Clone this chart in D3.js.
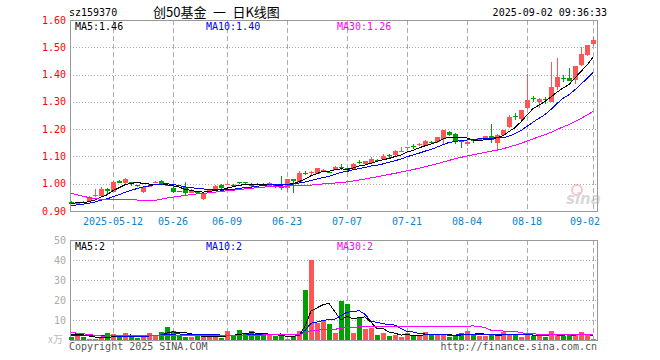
<!DOCTYPE html>
<html>
<head>
<meta charset="utf-8">
<script src="https://cdn.jsdelivr.net/npm/d3@7/dist/d3.min.js"></script>
<style>
  body { margin: 0; background: #fff; }
  text { font-family: "DejaVu Sans Mono", monospace; font-size: 10px; }
</style>
</head>
<body>
<script>
// trading days shown (2025)
const dates = [
  "04-28","04-29","04-30","05-06","05-07","05-08","05-09",
  "05-12","05-13","05-14","05-15","05-16","05-19","05-20","05-21","05-22","05-23",
  "05-26","05-27","05-28","05-29","05-30","06-03","06-04","06-05","06-06",
  "06-09","06-10","06-11","06-12","06-13","06-16","06-17","06-18","06-19","06-20",
  "06-23","06-24","06-25","06-26","06-27","06-30","07-01","07-02","07-03","07-04",
  "07-07","07-08","07-09","07-10","07-11","07-14","07-15","07-16","07-17","07-18",
  "07-21","07-22","07-23","07-24","07-25","07-28","07-29","07-30","07-31","08-01",
  "08-04","08-05","08-06","08-07","08-08","08-11","08-12","08-13","08-14","08-15",
  "08-18","08-19","08-20","08-21","08-22","08-25","08-26","08-27","08-28","08-29",
  "09-01","09-02"
];
const tickDates = ["05-12","05-26","06-09","06-23","07-07","07-21","08-04","08-18","09-02"];
const year = "2025";

const open = [
  .934,.928,.934,.938,.956,.956,.981,.972,1.011,1.002,
  1.006,.994,.969,.991,1.005,1.010,.997,.985,.972,.989,
  .967,.971,.942,.975,.977,.996,.997,.994,1.005,1.005,
  .999,.999,.999,.992,.996,.992,.983,1.017,1.008,1.040,
  1.040,1.036,1.049,1.043,1.051,1.062,1.057,1.054,1.081,1.073,
  1.076,1.086,1.091,1.104,1.105,1.119,1.131,1.140,1.142,1.140,
  1.154,1.152,1.164,1.189,1.183,1.157,1.146,1.159,1.157,1.168,
  1.175,1.150,1.176,1.208,1.248,1.237,1.277,1.313,1.299,1.312,
  1.301,1.355,1.388,1.389,1.377,1.433,1.472,1.511
];
const high = [
  .936,.934,.937,.955,.979,.987,.983,1.010,1.014,1.022,
  1.008,.997,.990,.996,1.009,1.012,1.000,.998,.974,1.008,
  .979,.973,.966,.979,.995,.998,1.003,1.000,1.008,1.007,
  1.001,1.001,1.001,1.006,.998,1.029,1.018,1.019,1.047,1.045,
  1.045,1.059,1.053,1.046,1.065,1.072,1.059,1.075,1.088,1.085,
  1.098,1.090,1.109,1.109,1.122,1.136,1.135,1.146,1.148,1.160,
  1.158,1.173,1.198,1.192,1.186,1.160,1.156,1.162,1.169,1.176,
  1.220,1.182,1.198,1.252,1.258,1.271,1.401,1.323,1.313,1.319,
  1.447,1.460,1.399,1.425,1.432,1.501,1.510,1.538
];
const low = [
  .926,.925,.929,.936,.952,.954,.958,.970,1.003,1.000,
  .990,.989,.967,.987,1.001,.995,.990,.966,.968,.959,
  .965,.966,.940,.972,.975,.982,.995,.990,1.000,1.000,
  .988,.995,.995,.990,.985,.978,.971,.967,1.006,1.032,
  1.033,1.034,1.045,1.038,1.049,1.052,1.045,1.052,1.072,1.071,
  1.074,1.078,1.089,1.096,1.103,1.115,1.124,1.126,1.138,1.138,
  1.146,1.150,1.146,1.174,1.145,1.130,1.140,1.150,1.155,1.166,
  1.151,1.127,1.174,1.205,1.233,1.235,1.275,1.300,1.279,1.293,
  1.299,1.344,1.374,1.375,1.365,1.431,1.469,1.506
];
const close = [
  .928,.930,.931,.953,.959,.981,.973,1.008,1.004,1.016,
  1.004,.992,.989,.993,1.007,.996,.995,.971,.970,.966,
  .977,.969,.965,.977,.993,.984,1.000,.992,1.003,1.003,
  .990,.997,.997,1.004,.987,.985,1.016,1.008,1.041,1.038,
  1.042,1.057,1.051,1.041,1.063,1.060,1.049,1.073,1.079,1.083,
  1.092,1.083,1.103,1.101,1.120,1.121,1.134,1.137,1.145,1.157,
  1.152,1.171,1.196,1.177,1.158,1.154,1.154,1.157,1.167,1.174,
  1.162,1.180,1.196,1.245,1.245,1.269,1.306,1.310,1.311,1.310,
  1.355,1.391,1.386,1.377,1.430,1.474,1.508,1.526
];
// volume, 万
const volume = [
  1.7,3.3,1.3,0.5,0.5,0.8,3.3,3.0,1.3,3.3,
  1.7,1.0,2.0,3.3,2.0,4.0,6.5,4.5,2.0,1.5,
  1.5,2.3,1.5,1.5,2.0,1.0,4.5,2.0,5.0,3.0,
  4.3,2.7,2.3,2.3,2.0,2.0,0.7,2.0,4.7,25,
  40,8.7,9.7,8.0,3.7,19.7,18,3.7,11,5.5,
  6.2,2.5,3.7,2.0,2.5,1.7,3.3,2.0,2.0,4.0,
  2.7,2.3,2.7,1.7,2.3,3.5,4.7,2.7,2.0,2.0,
  2.7,2.0,4.0,2.3,3.0,1.7,3.3,2.0,2.0,1.7,
  4.5,2.3,2.0,2.7,2.3,4.0,2.3,0.5
];
// closes / volumes of the 29 days before the window (read back from the MA lines)
const prevClose = [
  1.09,1.10,1.09,1.09,1.03,1.02,1.01,1.02,1.01,1.02,
  1.01,1.02,1.01,1.00,0.86,0.87,0.88,0.87,0.87,0.88,
  0.905,0.908,0.912,0.915,0.914,0.928,0.930,0.929,0.930
];
const prevVolume = [
  10,12,11,13,12,2.2,1.8,2.0,2.1,1.9,
  2.0,2.2,1.8,2.0,2.0,2.1,1.9,2.0,2.0,2.0,
  1.6,1.5,1.7,1.6,1.6,3.2,3.4,3.3,3.3
];

const priceTicks = [0.9,1.0,1.1,1.2,1.3,1.4,1.5,1.6];
const volTicks = [10,20,30,40,50];
const maPeriods = [5,10,30];
const maColors = ["#000000","#0000ff","#ff00ff"];
const priceMaText = ["1.46","1.40","1.26"];
const volMaText = ["2","2","2"];

const W = 660, H = 360;
const left = 70, right = 597;
const pTop = 20, pBot = 211, vTop = 240, vBot = 340;
const red = "#ff5555", green = "#00a000";

const svg = d3.select("body").append("svg").attr("width", W).attr("height", H)
  .style("background", "#fff");

const x = d3.scalePoint().domain(dates).range([71, 593]);
const y = d3.scaleLinear().domain([0.9, 1.6]).range([pBot, pTop]);
const yv = d3.scaleLinear().domain([0, 50]).range([vBot, vTop]);

function movingAvg(vals, prev, n){
  const all = prev.concat(vals);
  return vals.map((v, i) => {
    const end = prev.length + i;
    return d3.mean(all.slice(end - n + 1, end + 1));
  });
}

const idx = d3.range(dates.length);
const up = i => close[i] >= open[i];
const crisp = v => Math.round(v) + 0.5;

// ---- header
svg.append("text").attr("x", 69).attr("y", 16).text("sz159370");
svg.append("text").attr("x", 153).attr("y", 17)
  .style("font-family", "'Noto Sans CJK SC', sans-serif").style("font-size", "13px")
  .text("创50基金\u2002一\u2002日K线图");
svg.append("text").attr("x", 607).attr("y", 16).attr("text-anchor", "end")
  .text("2025-09-02 09:36:33");

// ---- grids
function grid(top, bot, hVals, yScale){
  const g = svg.append("g").attr("shape-rendering", "crispEdges");
  g.selectAll(".h").data(hVals).join("line")
    .attr("x1", left).attr("x2", right)
    .attr("y1", d => crisp(yScale(d))).attr("y2", d => crisp(yScale(d)))
    .attr("stroke", "#aaa").attr("stroke-dasharray", "1,2");
  g.selectAll(".v").data(tickDates).join("line")
    .attr("x1", d => crisp(x(d))).attr("x2", d => crisp(x(d)))
    .attr("y1", top).attr("y2", bot)
    .attr("stroke", "#aaa").attr("stroke-dasharray", "5,3");
  g.append("rect").attr("x", left + 0.5).attr("y", top + 0.5)
    .attr("width", right - left).attr("height", bot - top)
    .attr("fill", "none").attr("stroke", "#999");
}
grid(pTop, pBot, priceTicks.filter(d => d > 0.9 && d < 1.6), y);
grid(vTop, vBot, volTicks.filter(d => d < 50), yv);

// ---- axis labels
svg.selectAll(".plab").data(priceTicks).join("text")
  .attr("x", 66).attr("y", d => y(d)).attr("dy", "0.35em")
  .attr("text-anchor", "end").attr("fill", "#ff0000")
  .text(d => d.toFixed(2));
svg.selectAll(".vlab").data(volTicks).join("text")
  .attr("x", 66).attr("y", d => yv(d)).attr("dy", "0.35em")
  .attr("text-anchor", "end").attr("fill", "#aaa")
  .text(d => d);
svg.append("text").attr("x", 63).attr("y", 339).attr("dy", "0.35em")
  .attr("text-anchor", "end").attr("fill", "#bbb")
  .style("font-family", "'Noto Sans CJK SC', sans-serif").style("font-size", "10px")
  .text("x万");

svg.selectAll(".dlab").data(tickDates).join("text")
  .attr("y", 221).attr("dy", "0.35em").attr("fill", "#0a84d0")
  .text((d, i) => i === 0 ? year + "-" + d : d)
  .each(function(d){
    const w = this.getComputedTextLength();
    let cx = x(d) - w / 2;
    if (cx + w > 600) cx = 600 - w;
    d3.select(this).attr("x", cx);
  });

// ---- watermark
const wm = svg.append("g").attr("opacity", 0.45);
wm.append("circle").attr("cx", 577).attr("cy", 190).attr("r", 5)
  .attr("fill", "none").attr("stroke", "#f08080").attr("stroke-width", 2);
wm.append("text").attr("x", 566).attr("y", 204)
  .style("font-family", "'DejaVu Sans', sans-serif").style("font-size", "15px")
  .style("font-weight", "bold").style("font-style", "italic")
  .attr("fill", "#aaa").text("sina");

// ---- candles
const cg = svg.append("g").attr("shape-rendering", "crispEdges");
cg.selectAll(".wick").data(idx).join("line")
  .attr("x1", i => x(dates[i]) + 0.5).attr("x2", i => x(dates[i]) + 0.5)
  .attr("y1", i => y(high[i])).attr("y2", i => y(low[i]))
  .attr("stroke", i => up(i) ? red : green);
cg.selectAll(".body").data(idx).join("rect")
  .attr("x", i => x(dates[i]) - 2).attr("width", 5)
  .attr("y", i => Math.round(y(Math.max(open[i], close[i]))))
  .attr("height", i => Math.max(1, Math.round(Math.abs(y(open[i]) - y(close[i])))))
  .attr("fill", i => up(i) ? red : green);

// ---- volume bars
cg.selectAll(".vol").data(idx).join("rect")
  .attr("x", i => x(dates[i]) - 2).attr("width", 5)
  .attr("y", i => Math.round(yv(volume[i])))
  .attr("height", i => vBot - Math.round(yv(volume[i])))
  .attr("fill", i => up(i) ? red : green);

// ---- moving averages
maPeriods.forEach((n, k) => {
  const pm = movingAvg(close, prevClose, n);
  const vm = movingAvg(volume, prevVolume, n);
  const lp = d3.line().x((d, i) => x(dates[i])).y(d => y(d));
  const lv = d3.line().x((d, i) => x(dates[i])).y(d => yv(d));
  svg.append("path").attr("d", lp(pm)).attr("fill", "none")
    .attr("stroke", maColors[k]).attr("stroke-width", 1).attr("shape-rendering", "crispEdges");
  svg.append("path").attr("d", lv(vm)).attr("fill", "none")
    .attr("stroke", maColors[k]).attr("stroke-width", 1).attr("shape-rendering", "crispEdges");
});

// ---- legends
const legX = [75, 206, 337];
maPeriods.forEach((n, k) => {
  svg.append("text").attr("x", legX[k]).attr("y", 30).attr("fill", maColors[k])
    .text("MA" + n + ":" + priceMaText[k]);
  svg.append("text").attr("x", legX[k]).attr("y", 250).attr("fill", maColors[k])
    .text("MA" + n + ":" + volMaText[k]);
});

// ---- footer
svg.append("text").attr("x", 69).attr("y", 350).attr("fill", "#555")
  .text("Copyright 2025 SINA.COM");
svg.append("text").attr("x", 597).attr("y", 350).attr("text-anchor", "end").attr("fill", "#555")
  .text("http://finance.sina.com.cn");
</script>
</body>
</html>
